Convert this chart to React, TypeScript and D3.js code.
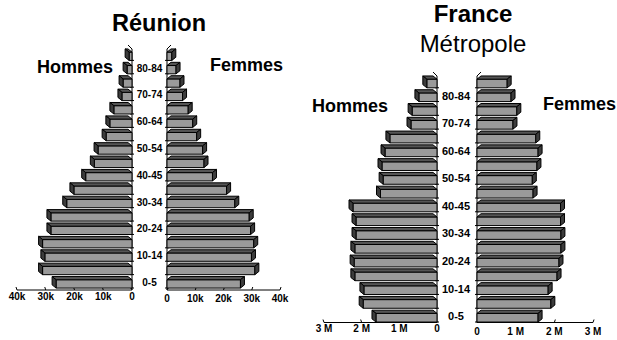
import React from 'react';
import * as d3 from 'd3';

const ageGroups = ['0-4','5-9','10-14','15-19','20-24','25-29','30-34','35-39','40-44','45-49','50-54','55-59','60-64','65-69','70-74','75-79','80-84','85+'];
const ageLabels = ['0-5','','10-14','','20-24','','30-34','','40-45','','50-54','','60-64','','70-74','','80-84',''];

const reunionMen = [26400, 31100, 30300, 31100, 28200, 28200, 22700, 20200, 16100, 13100, 11800, 9000, 7700, 6300, 3500, 3100, 1700, 1000];
const reunionWomen = [26000, 31100, 29900, 30700, 29600, 29100, 24000, 21100, 16100, 13100, 12600, 10500, 9100, 7500, 5500, 4600, 3200, 1700];
const franceMen = [1620000, 1960000, 1940000, 2180000, 2200000, 2180000, 2150000, 2150000, 2230000, 1500000, 1430000, 1460000, 1380000, 1250000, 690000, 660000, 480000, 270000];
const franceWomen = [1580000, 1910000, 1840000, 2070000, 2120000, 2170000, 2170000, 2160000, 2160000, 1450000, 1430000, 1550000, 1580000, 1520000, 930000, 1030000, 880000, 780000];

const reunionTicks = [0, 10000, 20000, 30000, 40000];
const reunionTickLabels = ['0', '10k', '20k', '30k', '40k'];
const franceTicks = [0, 1000000, 2000000, 3000000];
const franceTickLabels = ['0', '1 M', '2 M', '3 M'];

const FONT = 'Liberation Sans, Arial, Helvetica, sans-serif';
const FRONT = '#9a9a9a';
const TOP = '#555555';
const SIDE = '#3c3c3c';
const D = 4;

type BarProps = { x0: number; x1: number; yTop: number; yBot: number; dir: number; d: number };

function Bar3D({ x0, x1, yTop, yBot, dir, d }: BarProps) {
  const dx = d * dir;
  const dy = d * 0.8;
  const fy = yTop + dy;
  const left = Math.min(x0, x1);
  const w = Math.abs(x1 - x0);
  const topPts = [[x0, fy], [x1, fy], [x1 + dx, yTop], [x0 + dx, yTop]].map(p => p.join(',')).join(' ');
  const sidePts = [[x1, fy], [x1, yBot], [x1 + dx, yBot - dy], [x1 + dx, yTop]].map(p => p.join(',')).join(' ');
  return (
    <g stroke="#000" strokeWidth={1} strokeLinejoin="round">
      <rect x={left} y={fy} width={w} height={yBot - fy} fill={FRONT} />
      <polygon points={topPts} fill={TOP} />
      <polygon points={sidePts} fill={SIDE} />
    </g>
  );
}

type PyrProps = {
  men: number[]; women: number[]; max: number;
  menRange: [number, number]; womenRange: [number, number];
  yRange: [number, number]; axisY: number; axisTop: number;
  ticks: number[]; tickLabels: string[];
  labelX: number; labelSize: number;
  menTickY: number; womenTickY: number; d: number;
};

function Pyramid(p: PyrProps) {
  const xm = d3.scaleLinear().domain([0, p.max]).range(p.menRange);
  const xw = d3.scaleLinear().domain([0, p.max]).range(p.womenRange);
  const y = d3.scaleBand<string>().domain(ageGroups).range(p.yRange).paddingInner(0.14).paddingOuter(0.07);
  const bw = y.bandwidth();
  const m0 = xm(0);
  const w0 = xw(0);
  const step = y.step();
  const boundaries = ageGroups.map((g) => (y(g) as number) + bw + (step - bw) / 2);
  return (
    <g>
      <line x1={m0} x2={m0} y1={p.axisTop} y2={p.axisY} stroke="#000" strokeWidth={1} />
      <line x1={w0} x2={w0} y1={p.axisTop} y2={p.axisY} stroke="#000" strokeWidth={1} />
      <line x1={m0} x2={m0 - p.d} y1={p.axisTop} y2={p.axisTop - p.d} stroke="#000" strokeWidth={1} />
      <line x1={w0} x2={w0 + p.d} y1={p.axisTop} y2={p.axisTop - p.d} stroke="#000" strokeWidth={1} />
      {boundaries.map((b, i) => (
        <g key={'tb' + i} stroke="#000" strokeWidth={1}>
          <line x1={m0 - 2} x2={m0 + 2} y1={b - 1} y2={b - 1} />
          <line x1={w0 - 2} x2={w0 + 2} y1={b - 1} y2={b - 1} />
        </g>
      ))}
      <line x1={xm(p.max)} x2={m0} y1={p.axisY} y2={p.axisY} stroke="#000" strokeWidth={1} />
      <line x1={w0} x2={xw(p.max)} y1={p.axisY} y2={p.axisY} stroke="#000" strokeWidth={1} />
      {p.ticks.map((t, i) => (
        <g key={'t' + i}>
          <line x1={xm(t)} x2={xm(t) - 1} y1={p.axisY} y2={p.axisY - 3} stroke="#000" strokeWidth={1} />
          <line x1={xw(t)} x2={xw(t) + 1} y1={p.axisY} y2={p.axisY - 3} stroke="#000" strokeWidth={1} />
          <text x={xm(t)} y={p.menTickY} textAnchor="middle" fontFamily={FONT} fontWeight="bold" fontSize={10}>{p.tickLabels[i]}</text>
          <text x={xw(t)} y={p.womenTickY} textAnchor="middle" fontFamily={FONT} fontWeight="bold" fontSize={10}>{p.tickLabels[i]}</text>
        </g>
      ))}
      {ageGroups.map((g, i) => {
        const yt = y(g) as number;
        return (
          <g key={g}>
            <Bar3D x0={m0} x1={xm(p.men[i])} yTop={yt} yBot={yt + bw} dir={-1} d={p.d} />
            <Bar3D x0={w0} x1={xw(p.women[i])} yTop={yt} yBot={yt + bw} dir={1} d={p.d} />
          </g>
        );
      })}
      {ageGroups.map((g, i) => ageLabels[i] ? (
        <text key={'l' + g} x={p.labelX} y={(y(g) as number) + bw / 2 + p.labelSize * 0.36} textAnchor="middle"
          fontFamily={FONT} fontWeight="bold" fontSize={p.labelSize}>{ageLabels[i]}</text>
      ) : null)}
    </g>
  );
}

export default function App() {
  return (
    <svg width={617} height={340} style={{ position: 'absolute', left: 0, top: 0, background: '#fff' }}>
      <rect x={0} y={0} width={617} height={340} fill="#fff" />
      <text x={159} y={31} textAnchor="middle" fontFamily={FONT} fontWeight="bold" fontSize={23.5}>Réunion</text>
      <text x={37} y={73} fontFamily={FONT} fontWeight="bold" fontSize={18}>Hommes</text>
      <text x={210} y={71} fontFamily={FONT} fontWeight="bold" fontSize={18}>Femmes</text>
      <Pyramid men={reunionMen} women={reunionWomen} max={40000}
        menRange={[132, 17]} womenRange={[167, 280]}
        yRange={[289, 48]} axisY={290} axisTop={49}
        ticks={reunionTicks} tickLabels={reunionTickLabels}
        labelX={149.5} labelSize={10} menTickY={299.5} womenTickY={301.5} d={D} />

      <text x={473} y={22} textAnchor="middle" fontFamily={FONT} fontWeight="bold" fontSize={24}>France</text>
      <text x={473} y={52} textAnchor="middle" fontFamily={FONT} fontSize={24}>Métropole</text>
      <text x={312} y={111.5} fontFamily={FONT} fontWeight="bold" fontSize={18}>Hommes</text>
      <text x={543} y={110} fontFamily={FONT} fontWeight="bold" fontSize={18}>Femmes</text>
      <Pyramid men={franceMen} women={franceWomen} max={3000000}
        menRange={[437, 324]} womenRange={[477, 593]}
        yRange={[323, 75]} axisY={322.5} axisTop={76}
        ticks={franceTicks} tickLabels={franceTickLabels}
        labelX={456} labelSize={11} menTickY={331.5} womenTickY={335} d={D} />
    </svg>
  );
}
